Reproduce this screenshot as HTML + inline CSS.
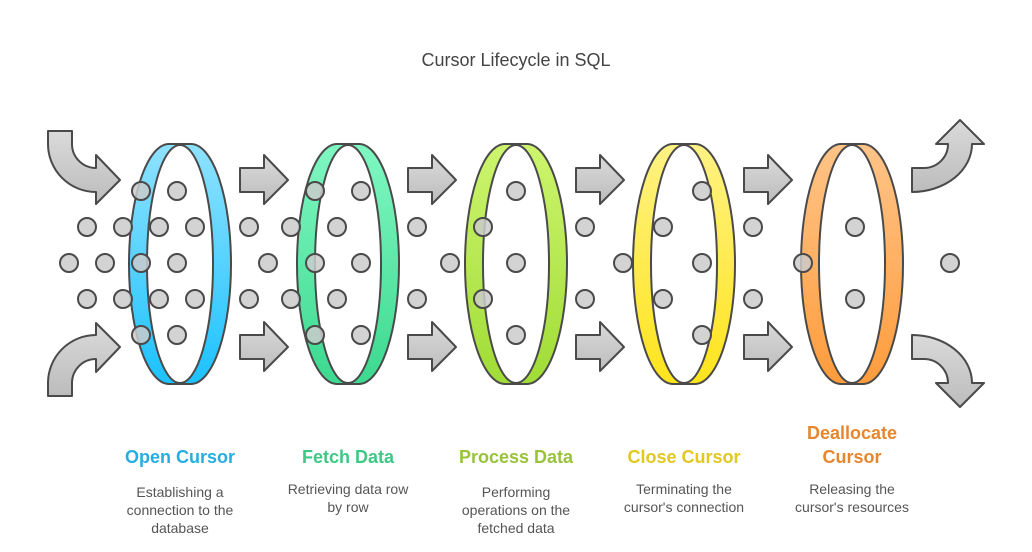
<!DOCTYPE html>
<html><head><meta charset="utf-8"><style>
html,body{margin:0;padding:0;background:#fff}
svg{display:block}
text{font-family:"Liberation Sans",sans-serif}
</style></head><body>
<svg width="1032" height="552" viewBox="0 0 1032 552" xmlns="http://www.w3.org/2000/svg">
<defs>
<linearGradient id="g" x1="0" y1="0" x2="0" y2="1"><stop offset="0" stop-color="#dadada"/><stop offset="1" stop-color="#bcbcbc"/></linearGradient>
<linearGradient id="c1" x1="0" y1="0" x2="0" y2="1"><stop offset="0" stop-color="#8fe2ff"/><stop offset="1" stop-color="#1cc2ff"/></linearGradient>
<linearGradient id="c2" x1="0" y1="0" x2="0" y2="1"><stop offset="0" stop-color="#80f7c2"/><stop offset="1" stop-color="#3cd98f"/></linearGradient>
<linearGradient id="c3" x1="0" y1="0" x2="0" y2="1"><stop offset="0" stop-color="#cdf56e"/><stop offset="1" stop-color="#a0dc36"/></linearGradient>
<linearGradient id="c4" x1="0" y1="0" x2="0" y2="1"><stop offset="0" stop-color="#fff284"/><stop offset="1" stop-color="#ffe41c"/></linearGradient>
<linearGradient id="c5" x1="0" y1="0" x2="0" y2="1"><stop offset="0" stop-color="#ffc488"/><stop offset="1" stop-color="#ff9c3c"/></linearGradient>
</defs>
<text x="516" y="66" text-anchor="middle" font-size="18" fill="#444">Cursor Lifecycle in SQL</text>

<g fill="url(#g)" stroke="#4a4a4a" stroke-width="2" stroke-linejoin="round">
<path d="M48,131 H72 V144 A24,24 0 0 0 96,168 V155 L120,180 L96,204 V192 A48,48 0 0 1 48,144 Z"/>
<path d="M48,396 H72 V383 A24,24 0 0 1 96,359 V372 L120,347 L96,323 V335 A48,48 0 0 0 48,383 Z"/>
<path d="M912,192 V168 H924 A24,24 0 0 0 948,144 H936 L960,120 L984,144 H972 A60,48 0 0 1 912,192 Z"/>
<path d="M912,335 V359 H924 A24,24 0 0 1 948,383 H936 L960,407 L984,383 H972 A60,48 0 0 0 912,335 Z"/>
<path d="M240,168 H264 V155 L288,180 L264,204 V192 H240 Z"/>
<path d="M408,168 H432 V155 L456,180 L432,204 V192 H408 Z"/>
<path d="M576,168 H600 V155 L624,180 L600,204 V192 H576 Z"/>
<path d="M744,168 H768 V155 L792,180 L768,204 V192 H744 Z"/>
<path d="M240,335 H264 V322 L288,347 L264,371 V359 H240 Z"/>
<path d="M408,335 H432 V322 L456,347 L432,371 V359 H408 Z"/>
<path d="M576,335 H600 V322 L624,347 L600,371 V359 H576 Z"/>
<path d="M744,335 H768 V322 L792,347 L768,371 V359 H744 Z"/>
</g>

<g fill="#cbcbcb" stroke="#4a4a4a" stroke-width="2">
<circle cx="213" cy="263" r="9"/>
<circle cx="381" cy="227" r="9"/><circle cx="381" cy="299" r="9"/>
<circle cx="549" cy="227" r="9"/><circle cx="549" cy="299" r="9"/>
</g>

<g stroke="#4a4a4a" stroke-width="2">
<path fill="url(#c1)" d="M169,144 H191 A40,120 0 0 1 191,384 H169 A40,120 0 0 1 169,144 Z"/>
<ellipse cx="180" cy="264" rx="33" ry="119" fill="#fff"/>
<path fill="url(#c2)" d="M337,144 H359 A40,120 0 0 1 359,384 H337 A40,120 0 0 1 337,144 Z"/>
<ellipse cx="348" cy="264" rx="33" ry="119" fill="#fff"/>
<path fill="url(#c3)" d="M505,144 H527 A40,120 0 0 1 527,384 H505 A40,120 0 0 1 505,144 Z"/>
<ellipse cx="516" cy="264" rx="33" ry="119" fill="#fff"/>
<path fill="url(#c4)" d="M673,144 H695 A40,120 0 0 1 695,384 H673 A40,120 0 0 1 673,144 Z"/>
<ellipse cx="684" cy="264" rx="33" ry="119" fill="#fff"/>
<path fill="url(#c5)" d="M841,144 H863 A40,120 0 0 1 863,384 H841 A40,120 0 0 1 841,144 Z"/>
<ellipse cx="852" cy="264" rx="33" ry="119" fill="#fff"/>
</g>

<g fill="#cbcbcb" fill-opacity="0.85" stroke="#4a4a4a" stroke-width="2">
<circle cx="141" cy="191" r="9"/><circle cx="177" cy="191" r="9"/>
<circle cx="315" cy="191" r="9"/><circle cx="361" cy="191" r="9"/>
<circle cx="516" cy="191" r="9"/><circle cx="702" cy="191" r="9"/>
<circle cx="141" cy="335" r="9"/><circle cx="177" cy="335" r="9"/>
<circle cx="315" cy="335" r="9"/><circle cx="361" cy="335" r="9"/>
<circle cx="516" cy="335" r="9"/><circle cx="702" cy="335" r="9"/>
<circle cx="87" cy="227" r="9"/><circle cx="123" cy="227" r="9"/><circle cx="159" cy="227" r="9"/><circle cx="195" cy="227" r="9"/><circle cx="249" cy="227" r="9"/><circle cx="291" cy="227" r="9"/><circle cx="337" cy="227" r="9"/><circle cx="417" cy="227" r="9"/><circle cx="483" cy="227" r="9"/><circle cx="585" cy="227" r="9"/><circle cx="663" cy="227" r="9"/><circle cx="753" cy="227" r="9"/><circle cx="855" cy="227" r="9"/>
<circle cx="87" cy="299" r="9"/><circle cx="123" cy="299" r="9"/><circle cx="159" cy="299" r="9"/><circle cx="195" cy="299" r="9"/><circle cx="249" cy="299" r="9"/><circle cx="291" cy="299" r="9"/><circle cx="337" cy="299" r="9"/><circle cx="417" cy="299" r="9"/><circle cx="483" cy="299" r="9"/><circle cx="585" cy="299" r="9"/><circle cx="663" cy="299" r="9"/><circle cx="753" cy="299" r="9"/><circle cx="855" cy="299" r="9"/>
<circle cx="69" cy="263" r="9"/><circle cx="105" cy="263" r="9"/><circle cx="141" cy="263" r="9"/><circle cx="177" cy="263" r="9"/><circle cx="268" cy="263" r="9"/><circle cx="315" cy="263" r="9"/><circle cx="361" cy="263" r="9"/><circle cx="450" cy="263" r="9"/><circle cx="516" cy="263" r="9"/><circle cx="623" cy="263" r="9"/><circle cx="702" cy="263" r="9"/><circle cx="803" cy="263" r="9"/><circle cx="950" cy="263" r="9"/>
</g>

<g font-size="18" font-weight="bold" text-anchor="middle">
<text x="180" y="463" fill="#27aee0">Open Cursor</text>
<text x="348" y="463" fill="#3ec884">Fetch Data</text>
<text x="516" y="463" fill="#98c33b">Process Data</text>
<text x="684" y="463" fill="#e3c81e">Close Cursor</text>
<text x="852" y="439" fill="#e6862e">Deallocate</text>
<text x="852" y="463" fill="#e6862e">Cursor</text>
</g>
<g font-size="14" fill="#555" text-anchor="middle">
<text x="180" y="497">Establishing a</text>
<text x="180" y="515">connection to the</text>
<text x="180" y="533">database</text>
<text x="348" y="494">Retrieving data row</text>
<text x="348" y="512">by row</text>
<text x="516" y="497">Performing</text>
<text x="516" y="515">operations on the</text>
<text x="516" y="533">fetched data</text>
<text x="684" y="494">Terminating the</text>
<text x="684" y="512">cursor's connection</text>
<text x="852" y="494">Releasing the</text>
<text x="852" y="512">cursor's resources</text>
</g>
</svg>
</body></html>
